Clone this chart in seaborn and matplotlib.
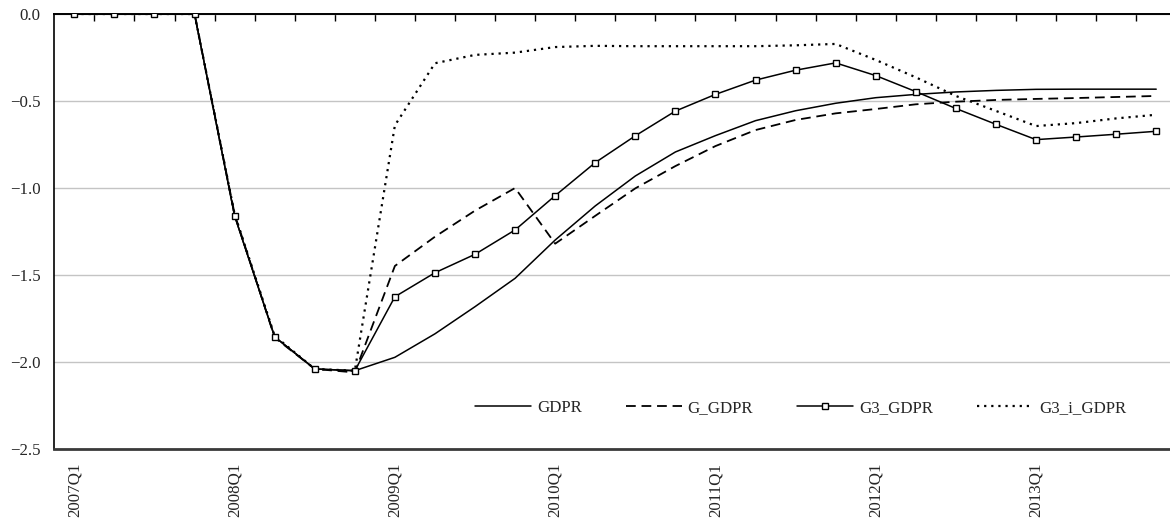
import matplotlib
matplotlib.use("Agg")
import matplotlib.pyplot as plt
import seaborn as sns
import pandas as pd
import numpy as np

quarters = [
    "2007Q1", "2007Q2", "2007Q3", "2007Q4",
    "2008Q1", "2008Q2", "2008Q3", "2008Q4",
    "2009Q1", "2009Q2", "2009Q3", "2009Q4",
    "2010Q1", "2010Q2", "2010Q3", "2010Q4",
    "2011Q1", "2011Q2", "2011Q3", "2011Q4",
    "2012Q1", "2012Q2", "2012Q3", "2012Q4",
    "2013Q1", "2013Q2", "2013Q3", "2013Q4",
]

gdpr = [0.0, 0.0, 0.0, 0.0, -1.16, -1.855, -2.04, -2.05,
        -1.973, -1.838, -1.682, -1.519, -1.299, -1.103, -0.931, -0.793,
        -0.699, -0.613, -0.556, -0.513, -0.481, -0.462, -0.448, -0.439,
        -0.433, -0.432, -0.432, -0.432]

g_gdpr = [0.0, 0.0, 0.0, 0.0, -1.15, -1.86, -2.04, -2.06,
          -1.448, -1.28, -1.13, -1.0, -1.32, -1.16, -1.002, -0.874,
          -0.759, -0.667, -0.609, -0.571, -0.546, -0.519, -0.504, -0.494,
          -0.488, -0.483, -0.477, -0.471]

g3_gdpr = [0.0, 0.0, 0.0, 0.0, -1.16, -1.856, -2.04, -2.05,
           -1.625, -1.487, -1.381, -1.241, -1.044, -0.854, -0.70, -0.558,
           -0.462, -0.38, -0.323, -0.281, -0.354, -0.446, -0.543, -0.634,
           -0.722, -0.707, -0.691, -0.674]

g3_i_gdpr = [0.0, 0.0, 0.0, 0.0, -1.15, -1.85, -2.04, -2.05,
             -0.64, -0.283, -0.235, -0.222, -0.19, -0.183, -0.185, -0.185,
             -0.185, -0.185, -0.18, -0.172, -0.264, -0.364, -0.471, -0.557,
             -0.644, -0.627, -0.60, -0.579]

yticks = [0.0, -0.5, -1.0, -1.5, -2.0, -2.5]

sns.set_style("white")
plt.rcParams["font.family"] = ["Liberation Serif", "DejaVu Serif"]
FS = 12.2
plt.rcParams["font.size"] = FS
plt.rcParams["axes.unicode_minus"] = True

W, H, DPI = 1170, 524, 100
fig = plt.figure(figsize=(W / DPI, H / DPI), dpi=DPI)

n = len(quarters)
step = 40.07
left_px, top_px, bottom_px = 54.3, 14.0, 449.0
ax = fig.add_axes([left_px / W, 1 - bottom_px / H,
                   n * step / W, (bottom_px - top_px) / H])

x = np.arange(n)
df = pd.DataFrame({"q": x, "GDPR": gdpr, "G_GDPR": g_gdpr,
                   "G3_GDPR": g3_gdpr, "G3_i_GDPR": g3_i_gdpr})

sns.lineplot(data=df, x="q", y="GDPR", ax=ax, color="black", lw=1.1,
             label="GDPR", zorder=3)
sns.lineplot(data=df, x="q", y="G_GDPR", ax=ax, color="black", lw=1.3,
             label="G_GDPR", zorder=3)
sns.lineplot(data=df, x="q", y="G3_i_GDPR", ax=ax, color="black", lw=1.6,
             label="G3_i_GDPR", zorder=3)
sns.lineplot(data=df, x="q", y="G3_GDPR", ax=ax, color="black", lw=1.1,
             marker="s", markersize=4.6, markerfacecolor="white",
             markeredgecolor="black", markeredgewidth=1.0,
             label="G3_GDPR", zorder=4)

lines = {ln.get_label(): ln for ln in ax.get_lines()}
lines["G_GDPR"].set_linestyle((0, (5.4, 3.2)))
lines["G3_i_GDPR"].set_linestyle((0, (1, 2.2)))
for ln in lines.values():
    ln.set_dash_capstyle("butt")

ax.set_xlim(-0.5, n - 0.5)
ax.set_ylim(-2.5, 0.0)
ax.set_xlabel("")
ax.set_ylabel("")

# horizontal gridlines
ax.set_yticks(yticks)
ax.set_yticklabels([f"{v:.1f}".replace("-", "\u2212") for v in yticks])
ax.yaxis.grid(True, color="#c4c4c4", lw=1.0)
ax.xaxis.grid(False)
ax.set_axisbelow(True)
ax.tick_params(axis="y", length=0, pad=10, labelsize=FS)

# year labels at the bottom, quarter separators along the zero line
q1_idx = [i for i, q in enumerate(quarters) if q.endswith("Q1")]
ax.set_xticks(q1_idx)
ax.set_xticklabels([quarters[i] for i in q1_idx], rotation=90,
                   va="top", ha="center")
ax.tick_params(axis="x", which="major", length=0, pad=10, labelsize=FS)
ax.set_xticks(np.arange(0.5, n - 1, 1.0), minor=True)
ax.tick_params(axis="x", which="minor", bottom=False, top=True,
               direction="in", length=5, width=1.0, color="black")

ax.spines["right"].set_visible(False)
ax.spines["top"].set_color("black")
ax.spines["top"].set_linewidth(1.4)
ax.spines["left"].set_color("black")
ax.spines["left"].set_linewidth(1.2)
ax.spines["bottom"].set_color("#3a3a3a")
ax.spines["bottom"].set_linewidth(2.0)

ax.get_legend().remove()
order = ["GDPR", "G_GDPR", "G3_GDPR", "G3_i_GDPR"]
fig.legend([lines[k] for k in order], order, loc="center left",
           bbox_to_anchor=(475 / W, 1 - 408 / H),
           bbox_transform=fig.transFigure, ncol=4, frameon=False,
           handlelength=3.3, handletextpad=0.35, columnspacing=2.6,
           borderpad=0, borderaxespad=0, fontsize=FS)

fig.savefig("out.png", dpi=DPI)
